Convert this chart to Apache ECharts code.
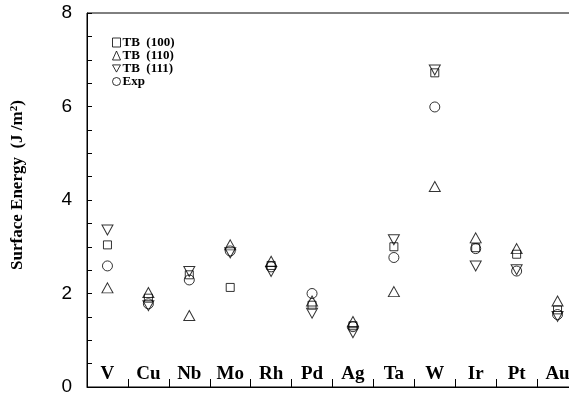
<!DOCTYPE html>
<html><head><meta charset="utf-8">
<script src="https://cdn.jsdelivr.net/npm/echarts@6/dist/echarts.min.js"></script>
<style>html,body{margin:0;padding:0;background:#fff;overflow:hidden}#c{width:578px;height:397px}</style>
</head><body><div id="c"></div>
<script>
var categories = ['V','Cu','Nb','Mo','Rh','Pd','Ag','Ta','W','Ir','Pt','Au'];
var tb100 = [3.04, 1.90, 2.40, 2.13, 2.60, 1.75, 1.31, 3.00, 6.72, 2.98, 2.84, 1.65];
var tb110 = [2.12, 2.02, 1.53, 3.04, 2.69, 1.84, 1.40, 2.04, 4.29, 3.19, 2.96, 1.84];
var tb111 = [3.36, 1.74, 2.47, 2.87, 2.47, 1.58, 1.16, 3.15, 6.78, 2.59, 2.51, 1.51];
var expv  = [2.59, 1.78, 2.29, 2.91, 2.57, 2.00, 1.29, 2.77, 5.99, 2.96, 2.48, 1.55];
var yTicks = [0, 2, 4, 6, 8];
var seriesNames = ['TB  (100)', 'TB  (110)', 'TB  (111)', 'Exp'];

var chart = echarts.init(document.getElementById('c'), null, {renderer:'canvas'});
var serif = '"Liberation Serif","Times New Roman",serif';
var sans = '"Liberation Sans",Arial,sans-serif';
var markStyle = {color:'rgba(0,0,0,0)', borderColor:'#000', borderWidth:1};
var downTri = 'path://M0,0 L10,0 L5,9 Z';
function mk(name, data, symbol, size, rot){
  return {name:name, type:'scatter', data:data, symbol:symbol, symbolSize:size, symbolRotate:rot||0,
    itemStyle:markStyle, emphasis:{disabled:true}, z: 3};
}
chart.setOption({
  animation:false,
  backgroundColor:'#fff',
  grid:{left:87, right:0, top:13, bottom:10, show:true, borderColor:'#000', borderWidth:1, backgroundColor:'transparent'},
  legend:{
    orient:'vertical', left:112, top:36, itemGap:0, itemWidth:8, itemHeight:9,
    data:[
      {name:seriesNames[0], icon:'rect'},
      {name:seriesNames[1], icon:'triangle'},
      {name:seriesNames[2], icon:downTri},
      {name:seriesNames[3], icon:'circle'}
    ],
    itemStyle:markStyle,
    textStyle:{fontFamily:serif, fontWeight:'bold', fontSize:13, lineHeight:13, color:'#000', padding:[0,0,0,-3]},
    padding:0, selectedMode:false
  },
  xAxis:{
    type:'category', data:categories,
    axisLine:{show:true, lineStyle:{color:'#000', width:1}},
    axisTick:{show:true, inside:true, length:8, lineStyle:{color:'#000'}},
    axisLabel:{inside:true, margin:3, fontFamily:serif, fontWeight:'bold', fontSize:19, color:'#000', interval:0},
    splitLine:{show:false}
  },
  yAxis:{
    type:'value', min:0, max:8, interval:2,
    name:'{a|Surface Energy  (J /m}{s|2}{a|)}',
    nameLocation:'middle', nameGap:60,
    nameTextStyle:{padding:[0,0,0,30], rich:{
      a:{fontFamily:serif, fontWeight:'bold', fontSize:17, color:'#000'},
      s:{fontFamily:serif, fontWeight:'bold', fontSize:11, color:'#000', verticalAlign:'top', padding:[0,0,7,0]}
    }},
    axisLine:{show:true, lineStyle:{color:'#000', width:1}},
    axisTick:{show:true, inside:true, length:5, lineStyle:{color:'#000'}},
    minorTick:{show:true, splitNumber:4, length:5, lineStyle:{color:'#000'}},
    axisLabel:{margin:15, fontFamily:sans, fontSize:19, color:'#000',
      formatter:function(v){return yTicks.indexOf(v)>=0 ? String(v) : '';}},
    splitLine:{show:false}
  },
  series:[
    mk(seriesNames[0], tb100, 'rect', 8),
    mk(seriesNames[1], tb110, 'triangle', [11,10]),
    mk(seriesNames[2], tb111, 'triangle', [11,10], 180),
    mk(seriesNames[3], expv, 'circle', 10)
  ]
});
</script></body></html>
